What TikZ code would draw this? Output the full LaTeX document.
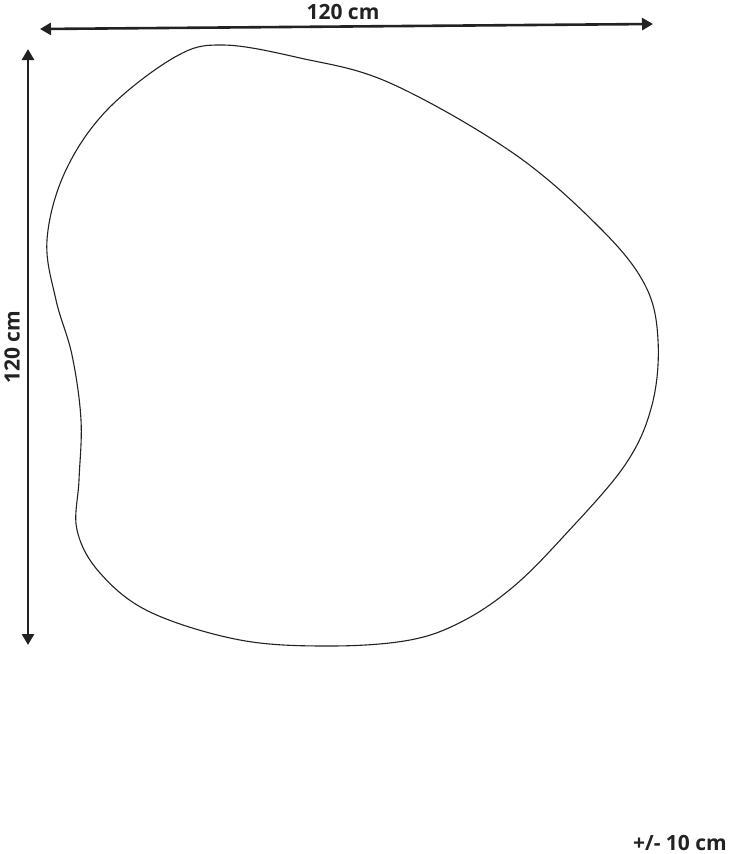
\documentclass[tikz,border=0pt]{standalone}
\usepackage{fontspec}
\setmainfont{Open Sans}
\usetikzlibrary{arrows.meta}
\definecolor{ink}{HTML}{222222}
\tikzset{
  dimline/.style={draw=ink, line width=2.6pt, {Triangle[length=11pt,width=12pt]}-{Triangle[length=11pt,width=12pt]}},
  dimtext/.style={font=\bfseries\fontsize{21}{23}\selectfont, text=ink, inner sep=0pt},
  outline/.style={draw=ink, line width=1.1pt}
}
\begin{document}
\begin{tikzpicture}[x=1pt,y=-1pt]
\useasboundingbox (0,0) rectangle (731,854);
% dimension arrows
\coordinate (hl) at (40,29);
\coordinate (hr) at (653,24);
\coordinate (vt) at (28,49);
\coordinate (vb) at (28,645);
\draw[dimline] (hl) -- (hr);
\draw[dimline] (vt) -- (vb);
\node[dimtext] (wlabel) at (343,12) {120 cm};
\node[dimtext, rotate=90] (hlabel) at (12,347) {120 cm};
\node[dimtext, anchor=east] (tol) at (727,843) {+/- 10 cm};
% mirror outline
\draw[outline] plot[smooth cycle, tension=0.6] coordinates {
 (223,45) (300,58) (390,83) (513,153) (600,228)
 (645,285) (658,340) (652,405) (625,465) (563,537)
 (513,587) (463,621) (410,640) (330,646) (240,640) (150,612)
 (100,573) (77,530) (79,480) (81,420) (72,355) (56,300)
 (47,240) (65,172) (107,110) (175,57)
};
\end{tikzpicture}
\end{document}
